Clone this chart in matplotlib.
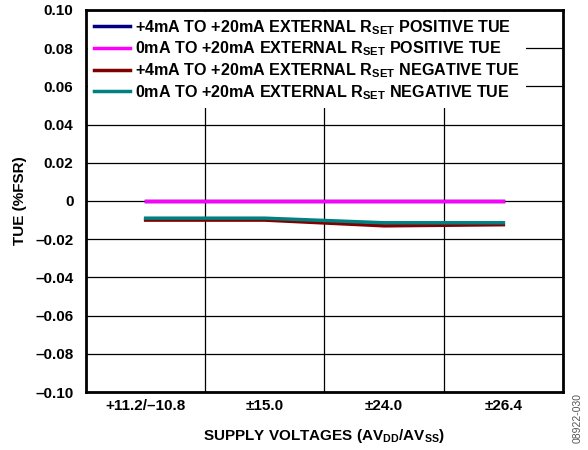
import matplotlib
matplotlib.use("Agg")
import matplotlib.pyplot as plt
from matplotlib.ticker import FixedLocator

plt.rcParams['font.family'] = ['Liberation Sans', 'DejaVu Sans']
plt.rcParams['font.weight'] = 'bold'
plt.rcParams['mathtext.fontset'] = 'custom'
plt.rcParams['mathtext.rm'] = 'Liberation Sans:bold'
plt.rcParams['mathtext.bf'] = 'Liberation Sans:bold'
plt.rcParams['mathtext.default'] = 'bf'

categories = ['+11.2/\u201310.8', '\u00b115.0', '\u00b124.0', '\u00b126.4']
pos_4_20 = [0.0, 0.0, 0.0, 0.0]
pos_0_20 = [0.0, 0.0, 0.0, 0.0]
neg_4_20 = [-0.010, -0.010, -0.013, -0.0124]
neg_0_20 = [-0.009, -0.009, -0.0114, -0.0114]
y_ticks = [-0.10, -0.08, -0.06, -0.04, -0.02, 0.0, 0.02, 0.04, 0.06, 0.08, 0.10]
y_tick_labels = ['\u20130.10', '\u20130.08', '\u20130.06', '\u20130.04', '\u20130.02', '0',
                 '0.02', '0.04', '0.06', '0.08', '0.10']

FS = 11
LFS = 11.6

fig = plt.figure(figsize=(5.88, 4.5), dpi=100)
ax = fig.add_axes([86/588, 58/450, (563-86)/588, (392-10)/450])

x = list(range(len(categories)))
ax.plot(x, pos_4_20, color='#000080', lw=2.5, label=r'+4mA TO +20mA EXTERNAL R$_{SET}$ POSITIVE TUE', zorder=3)
ax.plot(x, pos_0_20, color='#ff00ff', lw=2.5, label=r'0mA TO +20mA EXTERNAL R$_{SET}$ POSITIVE TUE', zorder=3)
ax.plot(x, neg_4_20, color='#800000', lw=2.5, label=r'+4mA TO +20mA EXTERNAL R$_{SET}$ NEGATIVE TUE', zorder=3)
ax.plot(x, neg_0_20, color='#008080', lw=2.5, label=r'0mA TO +20mA EXTERNAL R$_{SET}$ NEGATIVE TUE', zorder=3)

ax.set_xlim(-0.5, len(categories) - 0.5)
ax.set_ylim(-0.10, 0.10)
ax.set_xticks(x)
ax.set_xticklabels(categories, fontsize=FS, fontweight='bold')
ax.xaxis.set_minor_locator(FixedLocator([0.5, 1.5, 2.5]))
ax.set_yticks(y_ticks)
ax.set_yticklabels(y_tick_labels, fontsize=FS, fontweight='bold')
ax.tick_params(axis='y', which='both', length=0, pad=9)
ax.tick_params(axis='x', which='both', length=0, pad=5)
ax.grid(True, axis='y', which='major', color='black', lw=0.9)
ax.grid(True, axis='x', which='minor', color='black', lw=0.9)
ax.set_axisbelow(True)
for s in ax.spines.values():
    s.set_linewidth(2)

ax.set_ylabel('TUE (%FSR)', fontsize=FS, fontweight='bold', labelpad=6)
ax.set_xlabel(r'SUPPLY VOLTAGES (AV$_{DD}$/AV$_{SS}$)', fontsize=FS, fontweight='bold', labelpad=10)

leg = ax.legend(loc='upper left', bbox_to_anchor=(0.0, 1.0), borderaxespad=0.1,
                borderpad=0.4, frameon=True, fancybox=False, framealpha=1, edgecolor='none',
                facecolor='white', handlelength=2.2, handletextpad=0.35,
                labelspacing=0.18, prop={'weight': 'bold', 'size': LFS})
leg.set_zorder(5)

fig.text(578/588, 1 - 418/450, '08922-030', rotation=90, fontsize=7.5, color='#555555',
         ha='center', va='center', fontweight='normal')

fig.savefig('out.png', dpi=100)
